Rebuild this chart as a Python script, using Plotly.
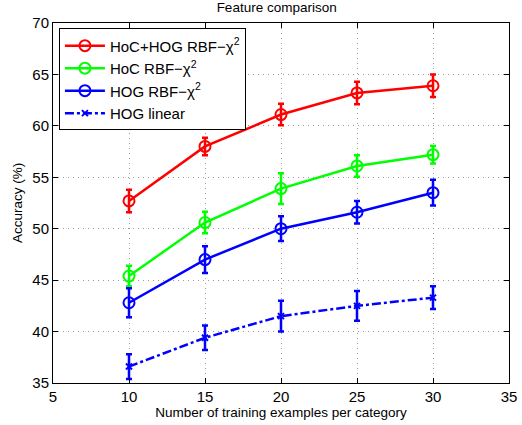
import plotly.graph_objects as go

# training examples per category
n_train = [10, 15, 20, 25, 30]

# accuracy (%) and error bars
hoc_hog = [52.7, 58.0, 61.1, 63.2, 63.9]
hoc_hog_err = [1.1, 0.85, 1.05, 1.1, 1.1]
hoc = [45.4, 50.6, 53.9, 56.1, 57.2]
hoc_err = [1.0, 1.05, 1.5, 1.05, 0.85]
hog = [42.8, 47.0, 50.0, 51.6, 53.5]
hog_err = [1.4, 1.3, 1.2, 1.1, 1.25]
hog_lin = [36.6, 39.4, 41.5, 42.5, 43.3]
hog_lin_err = [1.2, 1.2, 1.5, 1.45, 1.1]

font = "Liberation Sans, Arial, sans-serif"

fig = go.Figure()

def add(y, err, name, color, dash, symbol, msize):
    fig.add_trace(go.Scatter(
        x=n_train, y=y, name=name, mode="lines+markers",
        line=dict(color=color, width=2.5, dash=dash),
        marker=dict(symbol=symbol, size=msize, color=color, line=dict(color=color, width=2)),
        error_y=dict(type="data", array=err, visible=True, color=color, thickness=2.5, width=3),
    ))

add(hoc_hog, hoc_hog_err, "HoC+HOG RBF−χ<sup>2</sup>", "#ff0000", "solid", "circle-open", 11)
add(hoc, hoc_err, "HoC RBF−χ<sup>2</sup>", "#00ff00", "solid", "circle-open", 11)
add(hog, hog_err, "HOG RBF−χ<sup>2</sup>", "#0000ff", "solid", "circle-open", 11)
add(hog_lin, hog_lin_err, "HOG linear", "#0000ff", "dashdot", "x-thin-open", 6)

axis = dict(showline=True, linecolor="black", linewidth=1, mirror="allticks",
            ticks="inside", ticklen=5, tickcolor="black", automargin=False,
            showgrid=True, gridcolor="#9a9a9a", griddash="1px,4px", gridwidth=1,
            zeroline=False, tickfont=dict(family=font, size=15, color="black"))

fig.update_layout(
    width=522, height=425,
    margin=dict(l=53, r=13, t=23, b=42),
    paper_bgcolor="white", plot_bgcolor="white",
    title=dict(text="Feature comparison", x=0.53, xanchor="center", y=0.995, yanchor="top",
               font=dict(family=font, size=13.5, color="black")),
    xaxis=dict(axis, range=[5, 35], dtick=5,
               title=dict(text="Number of training examples per category", standoff=2,
                          font=dict(family=font, size=13.5, color="black"))),
    yaxis=dict(axis, range=[35, 70], dtick=5,
               title=dict(text="Accuracy (%)", standoff=6,
                          font=dict(family=font, size=13.5, color="black"))),
    legend=dict(x=0.013, y=0.985, xanchor="left", yanchor="top",
                bgcolor="white", bordercolor="black", borderwidth=1,
                font=dict(family=font, size=15, color="black"),
                tracegroupgap=0, itemwidth=40),
    showlegend=True,
)

fig.write_html("out.html", config={"displayModeBar": False},
               post_script="document.body.style.margin='0';")
